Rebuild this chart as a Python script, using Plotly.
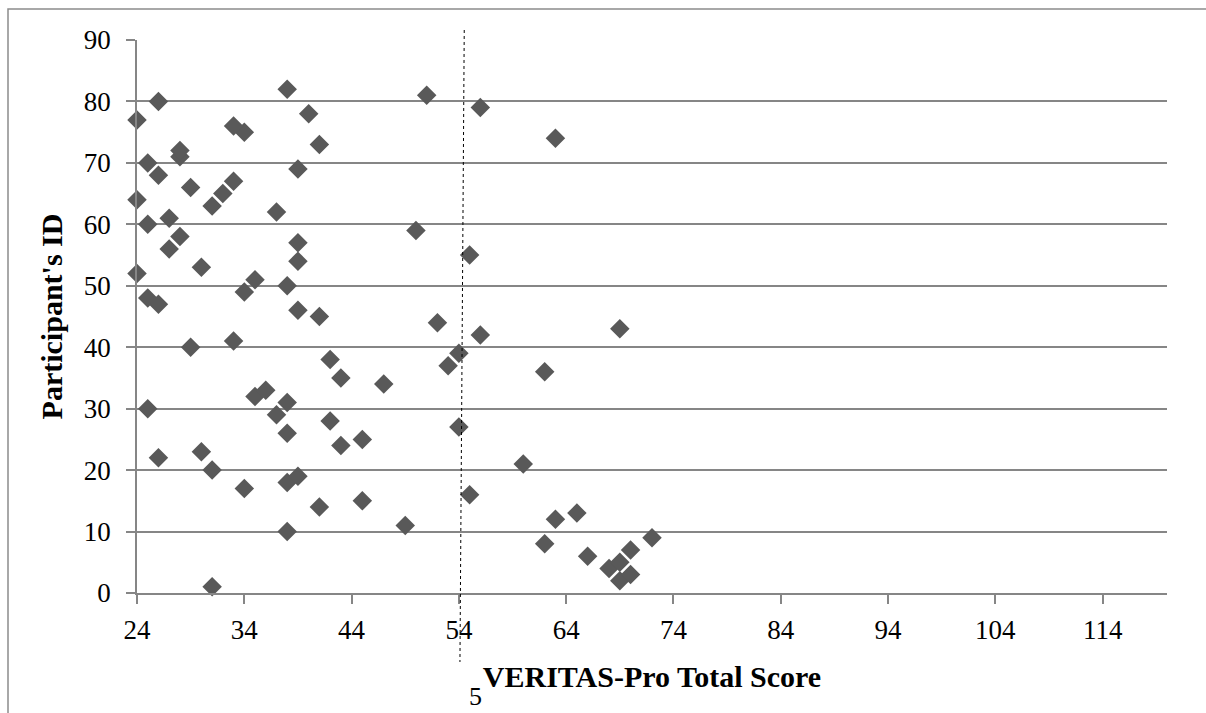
import plotly.graph_objects as go

# Participant IDs and VERITAS-Pro total scores
participant_id = list(range(1, 83))
total_score = [
    31, 69, 70, 68, 69, 66, 70, 62, 72, 38,
    49, 63, 65, 41, 45, 55, 34, 38, 39, 31,
    60, 26, 30, 43, 45, 38, 54, 42, 37, 25,
    38, 35, 36, 47, 43, 62, 53, 42, 54, 29,
    33, 56, 69, 52, 41, 39, 26, 25, 34, 38,
    35, 24, 30, 39, 55, 27, 39, 28, 50, 25,
    27, 37, 31, 24, 32, 29, 33, 26, 39, 25,
    28, 28, 41, 63, 34, 33, 24, 40, 56, 26,
    51, 38,
]
x_ticks = [24, 34, 44, 54, 64, 74, 84, 94, 104, 114]
y_ticks = [0, 10, 20, 30, 40, 50, 60, 70, 80, 90]
x_range = [24, 120]
y_range = [0, 90]
cutoff_top = 54.5
cutoff_bottom = 54.1

W, H = 1206, 713
ML, MR, MT, MB = 137, 39, 40, 120
PW, PH = W - ML - MR, H - MT - MB

def px_to_paper_x(px):
    return (px - ML) / PW

def px_to_paper_y(py):
    return (H - MB - py) / PH

def data_to_paper_x(v):
    return (v - x_range[0]) / (x_range[1] - x_range[0])

grid = "#868686"
serif = "Liberation Serif, Times New Roman, serif"

fig = go.Figure()
fig.add_trace(go.Scatter(
    x=total_score, y=participant_id, mode="markers",
    marker=dict(symbol="diamond", size=15, color="#595959", line=dict(width=0)),
    cliponaxis=False, showlegend=False,
))

fig.update_layout(
    width=W, height=H,
    margin=dict(l=ML, r=MR, t=MT, b=MB, autoexpand=False),
    paper_bgcolor="white", plot_bgcolor="white",
    font=dict(family=serif, color="black", size=27),
    xaxis=dict(
        range=x_range, tickvals=x_ticks, ticktext=[str(v) for v in x_ticks],
        showgrid=False, zeroline=False,
        showline=True, linecolor=grid, linewidth=1.5,
        ticks="outside", ticklen=9, tickcolor=grid, tickwidth=1.5,
        ticklabelstandoff=3,
        tickfont=dict(family=serif, size=27, color="black"),
        title=dict(text="<b>VERITAS-Pro Total Score</b>", standoff=22,
                   font=dict(family=serif, size=30, color="black")),
    ),
    yaxis=dict(
        range=y_range, tickvals=y_ticks, ticktext=[str(v) for v in y_ticks],
        showgrid=True, gridcolor=grid, gridwidth=1.5, zeroline=False,
        showline=True, linecolor=grid, linewidth=1.5,
        ticks="outside", ticklen=9, tickcolor=grid, tickwidth=1.5,
        ticklabelstandoff=10,
        tickfont=dict(family=serif, size=27, color="black"),
        title=dict(text="<b>Participant's ID</b>", standoff=12,
                   font=dict(family=serif, size=30, color="black")),
    ),
    shapes=[
        # outer frame (partially cropped by the image edges)
        dict(type="rect", xref="paper", yref="paper",
             x0=px_to_paper_x(8), x1=px_to_paper_x(W + 20),
             y0=px_to_paper_y(H + 20), y1=px_to_paper_y(9),
             line=dict(color="#8c8c8c", width=1.5), fillcolor="rgba(0,0,0,0)", layer="below"),
        # dotted cutoff line
        dict(type="line", xref="paper", yref="paper",
             x0=data_to_paper_x(cutoff_top), x1=data_to_paper_x(cutoff_bottom),
             y0=px_to_paper_y(30), y1=px_to_paper_y(662),
             line=dict(color="black", width=1, dash="dot")),
    ],
    annotations=[
        dict(text="5", xref="paper", yref="paper",
             x=px_to_paper_x(475), y=px_to_paper_y(696),
             xanchor="center", yanchor="middle", showarrow=False,
             font=dict(family=serif, size=26, color="black")),
    ],
)

fig.write_html(
    "out.html",
    config={"displayModeBar": False},
    post_script="document.body.style.margin='0';document.documentElement.style.overflow='hidden';document.body.style.overflow='hidden';",
)
